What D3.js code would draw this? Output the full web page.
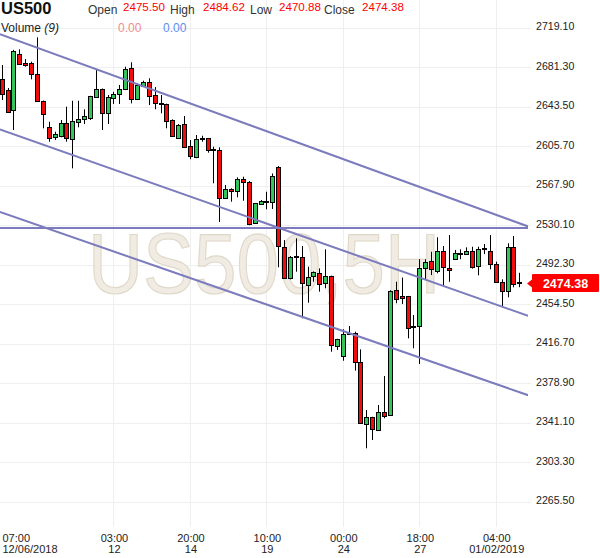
<!DOCTYPE html>
<html><head><meta charset="utf-8">
<script src="https://cdn.jsdelivr.net/npm/d3@7/dist/d3.min.js"></script>
<style>
html,body{margin:0;padding:0;background:#fff;}
svg{display:block;font-family:"Liberation Sans",Arial,sans-serif;}
</style></head>
<body><svg id="c" width="600" height="558"></svg>
<script>
// ---- data (5H candles, US500) ----
const opens  = [2669.8,2659.6,2640.4,2694.0,2685.7,2685.7,2674.9,2649.3,2624.4,2614.3,2614.9,2627.7,2612.4,2628.7,2631.5,2632.5,2652.6,2660.5,2637.3,2651.6,2655.7,2660.2,2680.3,2650.7,2663.7,2667.5,2654.8,2646.8,2646.2,2630.9,2613.9,2627.0,2606.0,2594.8,2613.3,2613.3,2602.8,2601.9,2555.9,2564.5,2562.9,2574.1,2571.2,2532.0,2551.1,2552.4,2552.4,2585.6,2509.6,2479.9,2500.7,2499.5,2473.0,2481.6,2484.7,2474.6,2481.6,2414.6,2405.0,2427.3,2426.7,2399.6,2340.6,2346.4,2334.7,2351.9,2348.6,2468.2,2462.4,2462.4,2433.7,2433.1,2488.9,2495.9,2486.6,2505.5,2488.9,2497.6,2502.9,2502.9,2505.5,2491.4,2507.1,2505.5,2493.1,2476.1,2467.2,2509.6,2475.50];
const highs  = [2683.5,2661.5,2698.0,2698.5,2689.2,2686.7,2710.0,2649.5,2629.2,2619.7,2630.9,2643.6,2649.3,2649.3,2641.1,2654.0,2678.7,2661.0,2654.8,2657.9,2664.4,2681.9,2686.1,2665.0,2668.5,2670.8,2662.4,2654.8,2646.5,2631.5,2627.0,2634.7,2611.7,2616.5,2615.8,2613.5,2605.3,2604.7,2568.7,2565.5,2576.0,2576.6,2572.5,2551.5,2554.3,2562.2,2579.7,2586.8,2516.0,2500.7,2517.6,2510.3,2490.5,2486.0,2488.9,2507.1,2482.0,2421.5,2430.6,2433.7,2428.3,2411.4,2353.3,2346.9,2358.1,2385.9,2468.0,2476.1,2480.1,2462.5,2444.3,2497.6,2497.6,2504.8,2518.6,2510.3,2520.8,2506.5,2507.1,2509.0,2509.6,2509.6,2512.2,2520.8,2495.3,2478.4,2512.9,2519.9,2484.62];
const lows   = [2650.0,2637.6,2621.3,2683.5,2681.9,2669.8,2649.3,2622.9,2610.1,2611.7,2614.3,2610.1,2584.6,2623.9,2627.0,2630.9,2652.0,2621.3,2627.0,2646.2,2646.2,2659.5,2646.8,2650.0,2662.5,2645.2,2641.1,2637.3,2622.9,2615.0,2613.0,2604.7,2593.3,2594.3,2610.1,2599.6,2570.3,2533.2,2555.3,2552.7,2556.9,2553.6,2530.1,2531.5,2550.5,2545.4,2545.7,2489.9,2479.4,2478.4,2485.7,2441.1,2456.0,2476.1,2466.6,2469.8,2409.1,2410.8,2400.5,2425.1,2391.0,2340.6,2316.7,2324.6,2334.2,2345.4,2348.0,2455.5,2454.8,2421.9,2412.4,2397.4,2477.7,2482.5,2484.2,2472.0,2476.1,2497.0,2497.6,2502.6,2488.6,2482.2,2502.6,2488.0,2475.5,2452.9,2461.2,2470.8,2470.88];
const closes = [2655.5,2638.8,2696.9,2684.2,2684.0,2674.9,2649.3,2637.3,2614.3,2617.2,2627.7,2613.3,2629.9,2631.5,2634.7,2653.8,2660.5,2637.3,2652.6,2655.7,2660.5,2679.4,2650.7,2664.4,2667.5,2653.8,2646.8,2645.9,2630.2,2615.6,2626.1,2605.3,2596.4,2612.4,2612.4,2602.2,2601.5,2555.9,2564.5,2562.2,2574.1,2571.2,2530.9,2551.1,2553.6,2553.3,2577.0,2509.6,2479.9,2500.1,2499.5,2474.6,2480.9,2485.7,2474.6,2481.6,2415.5,2421.0,2426.1,2426.1,2398.8,2341.2,2346.9,2334.9,2351.9,2348.1,2467.5,2459.3,2460.2,2431.5,2432.5,2488.9,2494.7,2488.0,2505.5,2489.9,2486.6,2503.3,2503.9,2505.5,2490.5,2507.4,2508.1,2492.8,2475.5,2467.9,2509.6,2474.6,2474.38];

const yTickValues = [2719.10,2681.30,2643.50,2605.70,2567.90,2530.10,2492.30,2454.50,2416.70,2378.90,2341.10,2303.30,2265.50];
const xTickIndex = [0,19,32,45,58,71,84];
const xTickTime  = ["07:00","03:00","20:00","10:00","00:00","18:00","04:00"];
const xTickDate  = ["12/06/2018","12","14","19","24","27","01/02/2019"];

// trend lines: start/end candle index and price
const trendStartIdx   = [-0.3, -0.3, -0.3, -0.3];
const trendStartPrice = [2713.0, 2621.9, 2542.8, 2527.6];
const trendEndIdx     = [89.5, 89.5, 89.5, 89.5];
const trendEndPrice   = [2529.0, 2443.4, 2367.5, 2527.6];

const labelNames = ["Open","High","Low","Close"];
const volumeVals = [0, 0];

// ---- drawing ----
const svg = d3.select("#c");
const plotRight = 528;
const x = d3.scaleLinear().domain([0, 88]).range([1.7, 519.3]);
const y = d3.scaleLinear().domain([2265.5, 2719.1]).range([501.8, 27.8]);

const GREEN = "#33c45a", RED = "#f20d0d", GRID = "#efefef", PURPLE = "#7b7bbd";

// grid
const g = svg.append("g");
g.selectAll("line.h").data(yTickValues).join("line")
  .attr("x1", 0).attr("x2", 531)
  .attr("y1", d => Math.round(y(d)) + 0.5).attr("y2", d => Math.round(y(d)) + 0.5)
  .attr("stroke", GRID).attr("stroke-width", 1);
g.selectAll("line.v").data(xTickIndex.slice(1)).join("line")
  .attr("x1", d => Math.round(x(d)) + 0.5).attr("x2", d => Math.round(x(d)) + 0.5)
  .attr("y1", 0).attr("y2", 527)
  .attr("stroke", GRID).attr("stroke-width", 1);

// watermark
svg.append("text")
  .attr("x", 88).attr("y", 293)
  .attr("textLength", 352).attr("lengthAdjust", "spacingAndGlyphs")
  .attr("font-size", 86)
  .attr("fill", "#f1ece3").attr("stroke", "#e0d8c8").attr("stroke-width", 1.2)
  .text("US500,5H");

// clip
svg.append("clipPath").attr("id", "clip").append("rect")
  .attr("x", 0).attr("y", 0).attr("width", plotRight).attr("height", 527);
const plot = svg.append("g").attr("clip-path", "url(#clip)");

// candles
const idx = d3.range(opens.length);
const cg = plot.append("g");
cg.selectAll("line.w").data(idx).join("line")
  .attr("x1", i => Math.round(x(i)) + 0.5).attr("x2", i => Math.round(x(i)) + 0.5)
  .attr("y1", i => y(highs[i])).attr("y2", i => y(lows[i]))
  .attr("stroke", "#000").attr("stroke-width", 1);
cg.selectAll("rect.b").data(idx).join("rect")
  .attr("x", i => Math.round(x(i)) - 1.5)
  .attr("width", 4)
  .attr("y", i => Math.round(y(Math.max(opens[i], closes[i]))) + 0.5)
  .attr("height", i => Math.max(1, Math.round(Math.abs(y(opens[i]) - y(closes[i])))))
  .attr("fill", i => closes[i] >= opens[i] ? GREEN : RED)
  .attr("stroke", "#000").attr("stroke-width", 1);

// trend lines
plot.selectAll("line.t").data(trendStartIdx.map((d, k) => k)).join("line")
  .attr("x1", k => x(trendStartIdx[k])).attr("y1", k => y(trendStartPrice[k]))
  .attr("x2", k => x(trendEndIdx[k])).attr("y2", k => y(trendEndPrice[k]))
  .attr("stroke", PURPLE).attr("stroke-width", 2);

// y axis labels
const yAxis = d3.axisRight(y).tickValues(yTickValues).tickFormat(d3.format(".2f")).tickSize(0).tickPadding(0);
const ya = svg.append("g").attr("transform", "translate(536,-1.5)").call(yAxis);
ya.select(".domain").remove();
ya.selectAll("text").attr("font-size", 10.6).attr("fill", "#222").attr("font-family", "Liberation Sans, Arial, sans-serif");

// last price tag
const last = closes[closes.length - 1];
const ty = y(last);
svg.append("path")
  .attr("d", `M527,${ty} L532,${ty - 4} L532,${ty - 8.5} Q532,${ty - 9.5} 533,${ty - 9.5} L598,${ty - 9.5} Q599,${ty - 9.5} 599,${ty - 8.5} L599,${ty + 7.5} Q599,${ty + 8.5} 598,${ty + 8.5} L533,${ty + 8.5} Q532,${ty + 8.5} 532,${ty + 7.5} L532,${ty + 4} Z`)
  .attr("fill", "#ff0000");
svg.append("text").attr("x", 565.5).attr("y", ty + 4.5)
  .attr("text-anchor", "middle").attr("font-size", 12.5).attr("font-weight", "bold")
  .attr("fill", "#fff").text(d3.format(".2f")(last));

// x axis labels
const xAxis = d3.axisBottom(x).tickValues(xTickIndex).tickSize(0).tickFormat("");
const xa = svg.append("g").attr("transform", "translate(0,530)").call(xAxis);
xa.select(".domain").remove();
xa.selectAll(".tick").each(function (d, k) {
  const px = k === 0 ? 2 - x(d) : 0.5;
  const t = d3.select(this).append("text")
    .attr("font-size", 11).attr("fill", "#222")
    .attr("text-anchor", k === 0 ? "start" : "middle");
  t.append("tspan").attr("x", px).attr("y", 12).text(xTickTime[k]);
  t.append("tspan").attr("x", px).attr("y", 23).text(xTickDate[k]);
});

// header
svg.append("text").attr("x", 1).attr("y", 14).attr("font-size", 16.5).attr("font-weight", "bold").attr("fill", "#111").text("US500");
const lastVals = [opens[opens.length - 1], highs[highs.length - 1], lows[lows.length - 1], closes[closes.length - 1]];
const labelX = [88, 170, 250, 324];
const valX   = [123, 203, 279, 362];
labelNames.forEach((n, k) => {
  svg.append("text").attr("x", labelX[k]).attr("y", 14).attr("font-size", 12).attr("fill", "#333").text(n);
  svg.append("text").attr("x", valX[k]).attr("y", 11).attr("font-size", 11.6).attr("fill", "#ff0000").text(d3.format(".2f")(lastVals[k]));
});
const vol = svg.append("text").attr("x", 1).attr("y", 32).attr("font-size", 12).attr("fill", "#222");
vol.append("tspan").text("Volume ");
vol.append("tspan").attr("font-style", "italic").text("(9)");
svg.append("text").attr("x", 118).attr("y", 32).attr("font-size", 12).attr("fill", "#f28b8b").text(d3.format(".2f")(volumeVals[0]));
svg.append("text").attr("x", 163).attr("y", 32).attr("font-size", 12).attr("fill", "#5b8def").text(d3.format(".2f")(volumeVals[1]));
</script>
</body></html>
